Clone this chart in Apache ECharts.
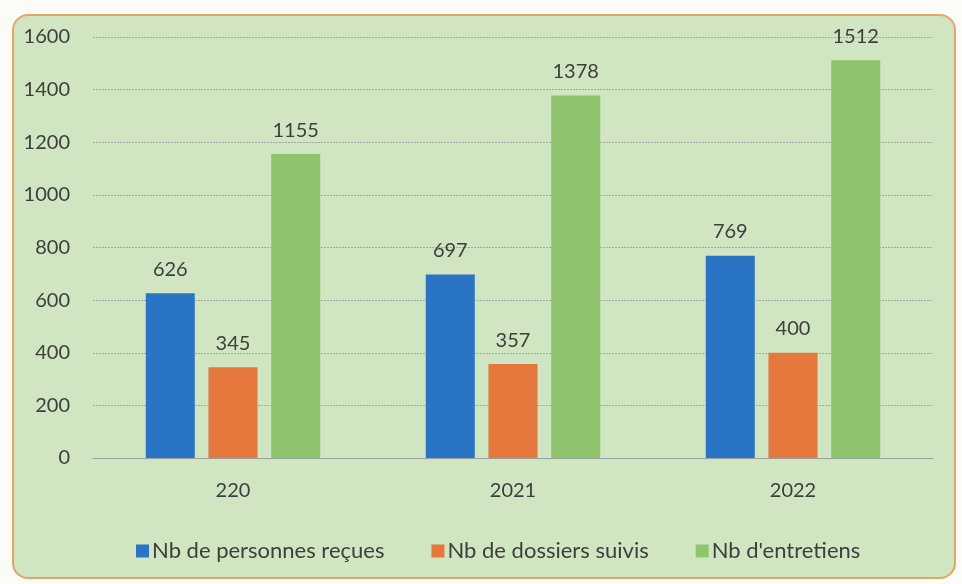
<!DOCTYPE html>
<html>
<head>
<meta charset="utf-8">
<script src="https://cdn.jsdelivr.net/npm/echarts@6/dist/echarts.min.js"></script>
<style>
  html, body { margin: 0; padding: 0; background: #fbfbf8; }
  .panel {
    position: absolute;
    left: 12px; top: 14px;
    width: 940px; height: 561px;
    background: #d0e5c1;
    border: 2px solid #e7a565;
    border-radius: 16px;
  }
  #chart { position: absolute; left: 0; top: 0; width: 962px; height: 584px; }
</style>
</head>
<body>
<div class="panel"></div>
<div id="chart"></div>
<script>
// Chart data
const years = ['220', '2021', '2022']
const personnesRecues = [626, 697, 769]
const dossiersSuivis = [345, 357, 400]
const entretiens = [1155, 1378, 1512]
const seriesNames = ['Nb de personnes reçues', 'Nb de dossiers suivis', "Nb d'entretiens"]

const font = 'Lato, "Open Sans", sans-serif'
const textColor = '#3c3f3c'

const chart = echarts.init(document.getElementById('chart'))

const barLabel = {
  show: true,
  position: 'top',
  distance: 14,
  color: textColor,
  fontSize: 20,
  fontFamily: font
}

chart.setOption({
  animation: false,
  backgroundColor: 'transparent',
  grid: { left: 93, right: 29, top: 37, bottom: 126 },
  legend: {
    top: 535,
    left: 131,
    icon: 'rect',
    itemWidth: 13,
    itemHeight: 13,
    itemGap: 47,
    textStyle: { color: textColor, fontSize: 22, fontFamily: font, padding: [0, 0, 0, -2] },
    data: seriesNames
  },
  xAxis: {
    type: 'category',
    data: years,
    axisTick: { show: false },
    axisLine: { lineStyle: { color: '#9a9f9a', width: 1 } },
    axisLabel: { color: textColor, fontSize: 20, fontFamily: font, margin: 23 }
  },
  yAxis: {
    type: 'value',
    min: 0,
    max: 1600,
    interval: 200,
    axisLine: { show: false },
    axisTick: { show: false },
    axisLabel: {
      color: textColor, fontSize: 20, fontFamily: font, margin: 23,
      formatter: v => String(v)
    },
    splitLine: { lineStyle: { color: '#a3a8a3', width: 1, type: [2, 1] } }
  },
  series: [
    {
      name: seriesNames[0],
      type: 'bar',
      data: personnesRecues,
      barWidth: 49,
      barGap: '28%',
      itemStyle: { color: '#2a74c6' },
      label: barLabel
    },
    {
      name: seriesNames[1],
      type: 'bar',
      data: dossiersSuivis,
      barWidth: 49,
      barGap: '28%',
      itemStyle: { color: '#e6773d' },
      label: barLabel
    },
    {
      name: seriesNames[2],
      type: 'bar',
      data: entretiens,
      barWidth: 49,
      barGap: '28%',
      itemStyle: { color: '#8ec46c' },
      label: barLabel
    }
  ]
})
</script>
</body>
</html>
